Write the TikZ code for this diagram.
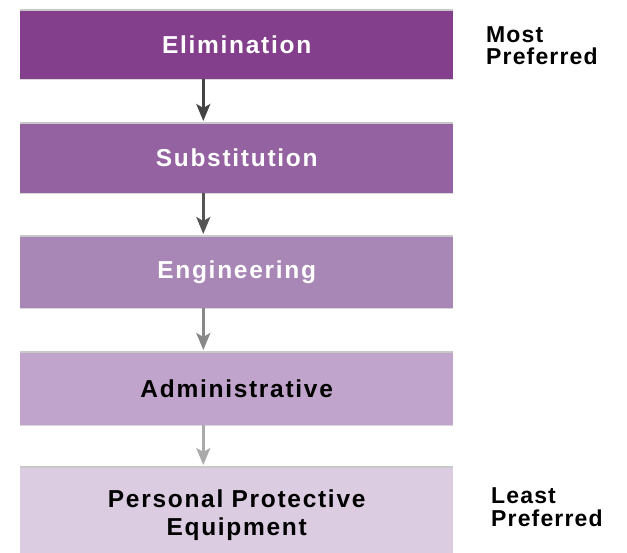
\documentclass[tikz,border=0pt]{standalone}
\usepackage{fontspec}
\setmainfont{Liberation Sans}[LetterSpace=7]
\newfontfamily\sidefont{Liberation Sans}[LetterSpace=5]
\usetikzlibrary{arrows.meta}
\definecolor{cA}{HTML}{833F8B}
\definecolor{cB}{HTML}{9462A1}
\definecolor{cC}{HTML}{A886B6}
\definecolor{cD}{HTML}{C1A4CB}
\definecolor{cE}{HTML}{DBCCE1}
\definecolor{edge}{HTML}{C8C8C8}
\definecolor{aA}{HTML}{444444}
\definecolor{aB}{HTML}{555555}
\definecolor{aC}{HTML}{888888}
\definecolor{aD}{HTML}{AAAAAA}
\tikzset{
  x=1pt, y=-1pt,
  level/.style={rectangle, inner sep=0pt, minimum width=433pt, text width=420pt, align=center,
    font=\fontsize{24.5}{28}\selectfont\bfseries, anchor=north west},
  arr/.style={line width=2.6pt, -{Stealth[length=17pt,width=14pt,inset=4pt]}, shorten >=2pt},
  side/.style={anchor=north west, inner sep=0pt, align=left, font=\sidefont\fontsize{23}{22.5}\selectfont\bfseries},
}
\begin{document}
\begin{tikzpicture}
\useasboundingbox (0,0) rectangle (627,553);
\node[level, fill=cA, text=white, minimum height=69pt] (b1) at (20,10) {Elimination};
\node[level, fill=cB, text=white, minimum height=70pt] (b2) at (20,123) {Substitution};
\node[level, fill=cC, text=white, minimum height=72pt] (b3) at (20,236) {Engineering};
\node[level, fill=cD, text=black, minimum height=73pt] (b4) at (20,352) {Administrative};
\node[level, fill=cE, text=black, minimum height=96pt] (b5) at (20,467) {Personal Protective\\Equipment};
\foreach \b in {b1,b2,b3,b4,b5}{
  \draw[edge, line width=1.2pt] (\b.north west) -- (\b.north east);
}
\foreach \b in {b1,b2,b3,b4}{
  \draw[edge!70, line width=1pt] (\b.south west) -- (\b.south east);
}
\coordinate (ax) at (203.3,0);
\draw[arr, aA] (b1.south -| ax) -- (b2.north -| ax);
\draw[arr, aB] (b2.south -| ax) -- (b3.north -| ax);
\draw[arr, aC] (b3.south -| ax) -- (b4.north -| ax);
\draw[arr, aD] (b4.south -| ax) -- (b5.north -| ax);
\node[side] (most) at (486,26) {Most\\Preferred};
\node[side] (least) at (491,487.5) {Least\\Preferred};
\end{tikzpicture}
\end{document}
